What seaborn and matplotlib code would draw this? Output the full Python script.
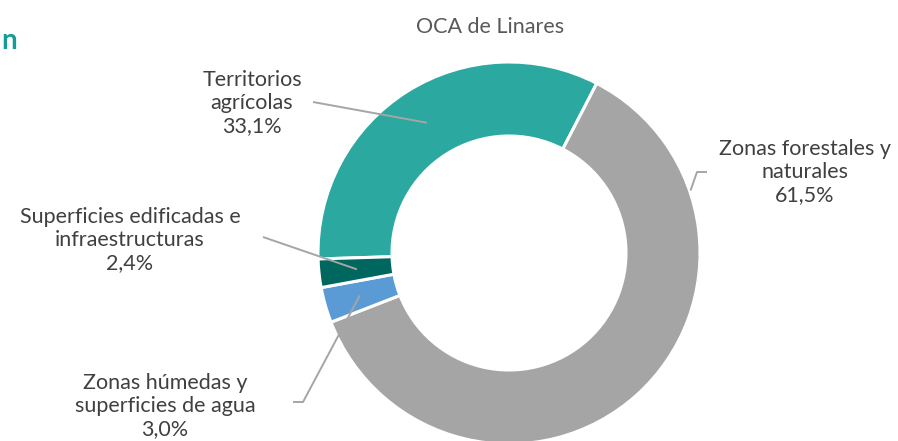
import matplotlib
matplotlib.use("Agg")
import matplotlib.pyplot as plt
import seaborn as sns
import numpy as np

# data, in the order the wedges are drawn (clockwise)
categories = ["Territorios\nagrícolas",
              "Zonas forestales y\nnaturales",
              "Zonas húmedas y\nsuperficies de agua",
              "Superficies edificadas e\ninfraestructuras"]
shares = [33.1, 61.5, 3.0, 2.4]
colors = ["#2BA8A0", "#A5A5A5", "#5B9BD5", "#00675F"]
title = "OCA de Linares"

W, H = 898, 441
sns.set_theme(style="white")
plt.rcParams['font.family'] = ['Lato', 'DejaVu Sans']

fig = plt.figure(figsize=(W / 100, H / 100), dpi=100)
ax = fig.add_axes([0, 0, 1, 1])

cx, cy = 509, H - 253   # pie centre in pixel units (y up)
r_out, r_in = 191, 117
start = 181.8

wedges, _ = ax.pie(shares, colors=colors, startangle=start, counterclock=False,
                   center=(cx, cy), radius=r_out,
                   wedgeprops=dict(width=r_out - r_in, edgecolor="white", linewidth=2.2))
ax.set_xlim(0, W)
ax.set_ylim(0, H)
ax.set_aspect('equal')
ax.axis('off')

# label placement: label centre (px, y from top), leader path from text side, end point on ring
label_pos = [(252, 103), (805, 172), (165, 406), (130, 240)]
leader_start = [[(313, 102)], [(707, 172), (697, 172)], [(293, 402), (303, 402)], [(263, 237)]]
end_radius = [154, 192, 155, 153]
end_angle = [None, 19.0, None, None]

cum = start
for i, (lab, v) in enumerate(zip(categories, shares)):
    theta1 = cum
    cum -= v * 3.6
    mid = (theta1 + cum) / 2 if end_angle[i] is None else end_angle[i]
    ex = cx + end_radius[i] * np.cos(np.radians(mid))
    ey = cy + end_radius[i] * np.sin(np.radians(mid))
    pts = [(x, H - y) for x, y in leader_start[i]] + [(ex, ey)]
    xs, ys = zip(*pts)
    ax.plot(xs, ys, color="#A5A5A5", lw=1.4, solid_capstyle="butt", zorder=3)
    txt = lab + "\n" + f"{v:.1f}%".replace(".", ",")
    lx, ly = label_pos[i]
    ax.text(lx, H - ly, txt, ha="center", va="center", multialignment="center",
            fontsize=15.5, color="#404040", linespacing=1.2)

ax.text(490, H - 27, title, ha="center", va="center", fontsize=15.5, color="#595959")
ax.text(1, H - 41, "n", ha="left", va="center", fontsize=20, fontweight="bold", color="#129C9A")

fig.savefig("out.png", dpi=100)
